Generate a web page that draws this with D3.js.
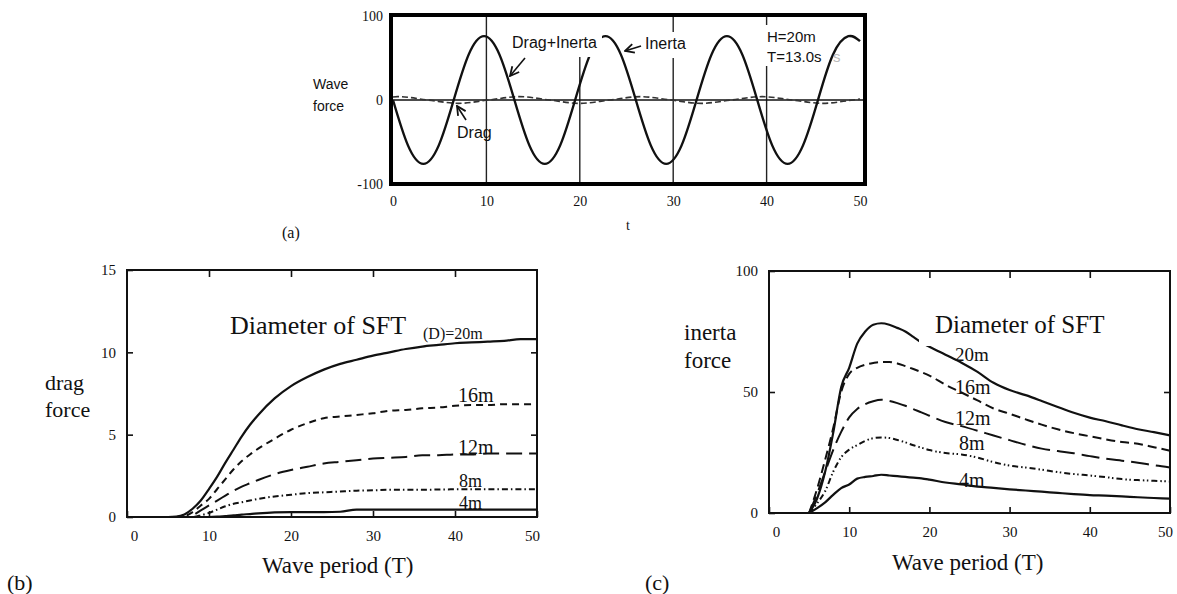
<!DOCTYPE html>
<html>
<head>
<meta charset="utf-8">
<script src="https://cdn.jsdelivr.net/npm/d3@7"></script>
<style>
  body { margin: 0; background: #fff; }
</style>
</head>
<body>
<script>
const width = 1177;
const height = 594;
const serif = '"Liberation Serif", "Times New Roman", serif';
const sans = '"Liberation Sans", Arial, sans-serif';

// (a) wave force vs time, H=20m T=13.0s
const waveT = [0, 1.6, 3.25, 4.9, 6.5, 8.1, 9.75, 11.4, 13, 14.6, 16.25, 17.9, 19.5, 21.1, 22.75, 24.4,
  26, 27.6, 29.25, 30.9, 32.5, 34.1, 35.75, 37.4, 39, 40.6, 42.25, 43.9, 45.5, 47.1, 48.75, 50];
const waveF = [0, -54, -76, -54, 0, 54, 76, 54, 0, -54, -76, -54, 0, 54, 76, 54,
  0, -54, -76, -54, 0, 54, 76, 54, 0, -54, -76, -54, 0, 54, 76, 70];
const dragT = [0, 0.5, 3.75, 7, 10.25, 13.5, 16.75, 20, 23.25, 26.5, 29.75, 33, 36.25, 39.5, 42.75, 46, 49.25, 50];
const dragF = [3.5, 4, 0, -4, 0, 4, 0, -4, 0, 4, 0, -4, 0, 4, 0, -4, 0, 1];
const timeTicks = [0, 10, 20, 30, 40, 50];
const timeGrid = [10, 20, 30, 40];
const forceTicks = [-100, 0, 100];

// (b) drag force vs wave period, by diameter
const dragPeriod = [0, 5, 6, 7, 8, 9, 10, 11, 12, 13, 14, 15, 16, 18, 20, 22, 24, 26, 28, 30, 32, 34, 36, 38, 40, 42, 44, 46, 48, 50];
const drag20m = [0, 0, 0.02, 0.15, 0.5, 1.0, 1.7, 2.45, 3.3, 4.1, 4.9, 5.6, 6.2, 7.2, 7.95, 8.5, 8.95, 9.3, 9.55, 9.8, 10.0, 10.2, 10.35, 10.45, 10.55, 10.6, 10.65, 10.7, 10.8, 10.8];
const drag16m = [0, 0, 0, 0.05, 0.3, 0.7, 1.1, 1.7, 2.3, 2.9, 3.4, 3.8, 4.15, 4.75, 5.3, 5.7, 6.0, 6.1, 6.2, 6.3, 6.45, 6.5, 6.6, 6.65, 6.75, 6.8, 6.8, 6.85, 6.85, 6.85];
const drag12m = [0, 0, 0, 0, 0.1, 0.4, 0.7, 1.0, 1.3, 1.6, 1.85, 2.05, 2.25, 2.6, 2.85, 3.05, 3.25, 3.35, 3.45, 3.55, 3.6, 3.65, 3.75, 3.75, 3.8, 3.8, 3.85, 3.85, 3.85, 3.85];
const drag8m = [0, 0, 0, 0, 0, 0.1, 0.25, 0.45, 0.65, 0.8, 0.9, 1.0, 1.1, 1.25, 1.35, 1.45, 1.5, 1.55, 1.6, 1.62, 1.65, 1.65, 1.65, 1.67, 1.68, 1.68, 1.68, 1.68, 1.68, 1.68];
const drag4m = [0, 0, 0, 0, 0, 0, 0, 0.02, 0.06, 0.1, 0.15, 0.18, 0.22, 0.28, 0.3, 0.3, 0.3, 0.32, 0.45, 0.45, 0.45, 0.45, 0.45, 0.45, 0.45, 0.45, 0.45, 0.45, 0.45, 0.45];

// (c) inertia force vs wave period, by diameter
const inertiaPeriod = [5, 6, 7, 8, 9, 10, 11, 12, 13, 14, 15, 16, 17, 18, 19, 20, 22, 24, 26, 28, 30, 32, 34, 36, 38, 40, 42, 44, 46, 48, 50];
const inertia20m = [0, 6, 17, 33, 52, 60, 70, 75, 77.8, 78.4, 77.8, 76.5, 75, 72.8, 70.5, 68.7, 65.4, 62.1, 58.3, 53.8, 50.8, 48.7, 46.3, 43.8, 41.4, 39.4, 37.9, 36.2, 34.6, 33.4, 32.1];
const inertia16m = [0, 10, 22, 35, 50, 57.5, 60, 61.3, 62, 62.4, 62.4, 61.8, 60.7, 59.5, 58.2, 56.8, 53, 49.8, 46.5, 43.2, 41, 38.7, 36.5, 34.6, 33, 31.7, 30.4, 29.3, 28.6, 27.2, 25.7];
const inertia12m = [0, 8, 17, 26, 33.5, 39.5, 43, 45, 46.2, 46.8, 46.3, 45.4, 44.3, 42.9, 41.6, 40.2, 37.6, 35.9, 34, 32, 30.1, 28.2, 26.6, 25.6, 24.7, 23.5, 22.4, 21.6, 20.8, 19.7, 18.8];
const inertia8m = [0, 4, 9, 17, 23, 26.2, 28, 29.8, 30.9, 31.2, 31, 30.2, 29.2, 28, 27, 26, 24.8, 24.2, 22.9, 21, 19.6, 18.8, 17.9, 16.9, 16.1, 15.5, 14.8, 14, 13.6, 13.3, 13];
const inertia4m = [0, 2, 4.4, 7.5, 10.3, 11.8, 14.2, 14.9, 15.3, 15.8, 15.5, 15.2, 14.9, 14.6, 14.3, 13.8, 12.6, 11.8, 10.9, 10.4, 9.8, 9.3, 8.8, 8.3, 7.8, 7.4, 7.2, 6.9, 6.5, 6.2, 5.9];

const periodTicks = [0, 10, 20, 30, 40, 50];

const svg = d3.select('body').append('svg')
  .attr('width', width).attr('height', height)
  .style('background', '#fff');

svg.append('defs').append('marker')
  .attr('id', 'arrow')
  .attr('viewBox', '0 0 10 10')
  .attr('refX', 9).attr('refY', 5)
  .attr('markerWidth', 7).attr('markerHeight', 7)
  .attr('orient', 'auto')
  .append('path')
  .attr('d', 'M1,1 L9,5 L1,9')
  .attr('fill', 'none').attr('stroke', '#111').attr('stroke-width', 1.6);

// ---------- (a) ----------
const xa = d3.scaleLinear().domain([0, 50]).range([393, 860]);
const ya = d3.scaleLinear().domain([-100, 100]).range([184, 16]);
const ga = svg.append('g');

ga.selectAll('.grid').data(timeGrid).join('line')
  .attr('x1', d => xa(d)).attr('x2', d => xa(d))
  .attr('y1', ya(-100)).attr('y2', ya(100))
  .attr('stroke', '#222').attr('stroke-width', 1.4);

ga.append('line')
  .attr('x1', xa.range()[0] - 2).attr('x2', 865)
  .attr('y1', ya(0)).attr('y2', ya(0))
  .attr('stroke', '#111').attr('stroke-width', 1.5);

const dragLine = d3.line()
  .x((d, i) => xa(dragT[i]))
  .y(d => ya(d))
  .curve(d3.curveMonotoneX);

ga.append('path')
  .datum(dragF)
  .attr('fill', 'none').attr('stroke', '#333')
  .attr('stroke-width', 1.6).attr('stroke-dasharray', '6,3')
  .attr('d', dragLine);

const waveLine = d3.line()
  .x((d, i) => xa(waveT[i]))
  .y(d => ya(d))
  .curve(d3.curveNatural);

ga.append('path')
  .datum(waveF)
  .attr('fill', 'none').attr('stroke', '#111')
  .attr('stroke-width', 2.4)
  .attr('d', waveLine);

// white label boxes that break the curve and grid in the original
ga.append('rect').attr('x', 507).attr('y', 17).attr('width', 95).attr('height', 40).attr('fill', '#fff');
ga.append('rect').attr('x', 638).attr('y', 32).attr('width', 54).attr('height', 26).attr('fill', '#fff');
ga.append('rect').attr('x', 762).attr('y', 25).attr('width', 63).attr('height', 41).attr('fill', '#fff');

ga.append('rect')
  .attr('x', 391).attr('y', 15).attr('width', 474).attr('height', 169)
  .attr('fill', 'none').attr('stroke', '#000').attr('stroke-width', 4);

ga.append('g')
  .attr('transform', `translate(0,${ya(-100)})`)
  .call(d3.axisBottom(xa).tickValues(timeTicks).tickSize(0).tickPadding(12))
  .call(g => g.select('.domain').remove())
  .call(g => g.selectAll('text').attr('font-family', serif).attr('font-size', 14).attr('fill', '#111'));

ga.append('g')
  .attr('transform', `translate(${xa.range()[0] - 2},0)`)
  .call(d3.axisLeft(ya).tickValues(forceTicks).tickSize(0).tickPadding(8).tickFormat(d => d < 0 ? '-' + Math.abs(d) : d))
  .call(g => g.select('.domain').remove())
  .call(g => g.selectAll('text').attr('font-family', serif).attr('font-size', 14).attr('fill', '#111'));

const aText = (x, y, s, size, fam) => ga.append('text')
  .attr('x', x).attr('y', y).text(s)
  .attr('font-family', fam || sans).attr('font-size', size).attr('fill', '#111');

aText(313, 89, 'Wave', 14);
aText(313, 111, 'force', 14);
aText(626, 230, 't', 14, serif);
aText(282, 238, '(a)', 16, serif);
aText(512, 48, 'Drag+Inerta', 16);
aText(645, 49, 'Inerta', 16);
aText(767, 42, 'H=20m', 15);
aText(767, 62, 'T=13.0s', 15);
aText(457, 138, 'Drag', 16);
aText(833, 62, 's', 15).attr('fill', '#bbb');

const arrow = (x1, y1, x2, y2) => ga.append('line')
  .attr('x1', x1).attr('y1', y1).attr('x2', x2).attr('y2', y2)
  .attr('stroke', '#111').attr('stroke-width', 1.6)
  .attr('marker-end', 'url(#arrow)');

arrow(525, 58, 510, 76);
arrow(641, 46, 625, 51);
arrow(466, 120, 457, 106);

// ---------- (b) and (c) ----------
function panel(o) {
  const g = svg.append('g');
  const x = d3.scaleLinear().domain([0, 50]).range(o.xr);
  const y = d3.scaleLinear().domain([0, o.ymax]).range(o.yr);

  o.series.forEach(s => {
    const line = d3.line()
      .x((d, i) => x(o.period[i]))
      .y(d => y(d))
      .curve(d3.curveMonotoneX);
    g.append('path')
      .datum(s.values)
      .attr('fill', 'none').attr('stroke', '#111')
      .attr('stroke-width', s.dash ? 2 : 2.2)
      .attr('stroke-dasharray', s.dash || null)
      .attr('d', line);
  });

  (o.boxes || []).forEach(b => g.append('rect')
    .attr('x', b[0]).attr('y', b[1]).attr('width', b[2]).attr('height', b[3]).attr('fill', '#fff'));

  const styleText = sel => sel.selectAll('text')
    .attr('font-family', serif).attr('font-size', 15).attr('fill', '#111');

  g.append('g')
    .attr('transform', `translate(0,${o.yr[0]})`)
    .call(d3.axisBottom(x).tickValues(periodTicks).tickSize(-6).tickPadding(13))
    .call(gg => gg.select('.domain').remove())
    .call(gg => gg.selectAll('line').attr('stroke', '#111').attr('stroke-width', 1.6))
    .call(styleText)
    .call(gg => gg.selectAll('text').attr('dx', d => d === 0 ? 7 : d === 50 ? -5 : 0));

  g.append('g')
    .attr('transform', `translate(0,${o.yr[1]})`)
    .call(d3.axisTop(x).tickValues(periodTicks.slice(1, -1)).tickSize(-7).tickFormat(''))
    .call(gg => gg.select('.domain').remove())
    .call(gg => gg.selectAll('line').attr('stroke', '#111').attr('stroke-width', 1.6));

  g.append('g')
    .attr('transform', `translate(${o.xr[0]},0)`)
    .call(d3.axisLeft(y).tickValues(o.yticks).tickSize(-6).tickPadding(11))
    .call(gg => gg.select('.domain').remove())
    .call(gg => gg.selectAll('line').attr('stroke', '#111').attr('stroke-width', 1.6))
    .call(styleText);

  g.append('g')
    .attr('transform', `translate(${o.xr[1]},0)`)
    .call(d3.axisRight(y).tickValues(o.yticks.slice(1, -1)).tickSize(-6).tickFormat(''))
    .call(gg => gg.select('.domain').remove())
    .call(gg => gg.selectAll('line').attr('stroke', '#111').attr('stroke-width', 1.6));

  g.append('rect')
    .attr('x', o.xr[0]).attr('y', o.yr[1])
    .attr('width', o.xr[1] - o.xr[0]).attr('height', o.yr[0] - o.yr[1])
    .attr('fill', 'none').attr('stroke', '#111').attr('stroke-width', 2);

  o.labels.forEach(l => g.append('text')
    .attr('x', l[0]).attr('y', l[1]).text(l[2])
    .attr('font-family', serif).attr('font-size', l[3]).attr('fill', '#111'));
}

panel({
  xr: [127, 537], yr: [517, 270], ymax: 15, yticks: [0, 5, 10, 15],
  period: dragPeriod,
  series: [
    {values: drag20m},
    {values: drag16m, dash: '7,5'},
    {values: drag12m, dash: '16,7'},
    {values: drag8m, dash: '6,3,1.5,3'},
    {values: drag4m}
  ],
  labels: [
    [230, 334, 'Diameter of SFT', 26],
    [423, 339, '(D)=20m', 16],
    [458, 402, '16m', 20],
    [458, 454, '12m', 20],
    [459, 487, '8m', 18],
    [459, 509, '4m', 18],
    [45, 390, 'drag', 22],
    [45, 417, 'force', 22],
    [262, 573, 'Wave period (T)', 23],
    [7, 590, '(b)', 22]
  ]
});

panel({
  xr: [769, 1170], yr: [513, 271], ymax: 100, yticks: [0, 50, 100],
  period: inertiaPeriod,
  series: [
    {values: inertia20m},
    {values: inertia16m, dash: '9,5'},
    {values: inertia12m, dash: '18,7'},
    {values: inertia8m, dash: '6,3,1.5,2.5,1.5,3'},
    {values: inertia4m}
  ],
  boxes: [[919, 300, 180, 46]],
  labels: [
    [935, 333, 'Diameter of SFT', 25],
    [955, 361, '20m', 19],
    [955, 394, '16m', 20],
    [955, 425, '12m', 20],
    [959, 450, '8m', 20],
    [959, 487, '4m', 20],
    [684, 340, 'inerta', 23],
    [684, 368, 'force', 23],
    [892, 570, 'Wave period (T)', 23],
    [645, 590, '(c)', 22]
  ]
});
</script>
</body>
</html>
